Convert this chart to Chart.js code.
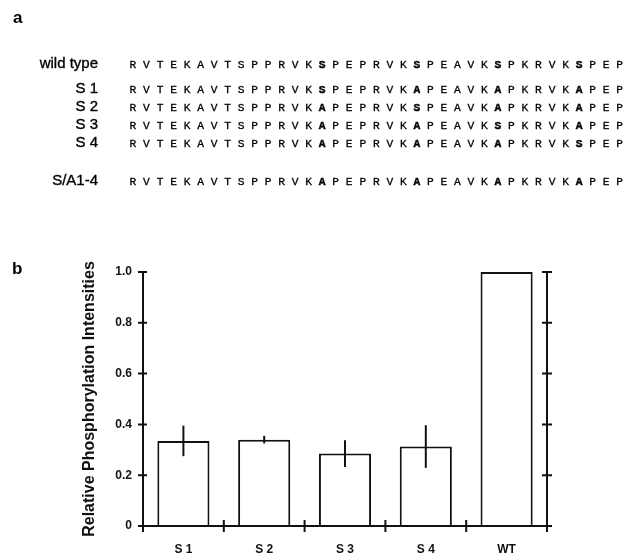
<!DOCTYPE html>
<html>
<head>
<meta charset="utf-8">
<script src="https://cdn.jsdelivr.net/npm/chart.js@4.4.1/dist/chart.umd.min.js"></script>
<style>
  html, body { margin: 0; padding: 0; background: #fff; }
  #wrap { position: relative; width: 623px; height: 554px; overflow: hidden; }
  #c { position: absolute; left: 0; top: 0; }
  .panel { position: absolute; font-family: "Liberation Sans", Arial, sans-serif; color: #000; font-size: 17px; line-height: 20px; font-weight: bold; }
  .row { position: absolute; left: 0; white-space: nowrap; line-height: 18px; color: #000; }
  .lab { display: inline-block; width: 98px; text-align: right; font-family: "Liberation Sans", Arial, sans-serif; font-size: 15px; -webkit-text-stroke: 0.35px #000; }
  .seq { display: inline-block; margin-left: 31.6px; font-family: "Liberation Mono", "Courier New", monospace; font-size: 11.25px; color: #000; -webkit-text-stroke: 0.3px #000; }
  .seq b { font-weight: bold; color: #000; -webkit-text-stroke: 0.4px #000; }
</style>
</head>
<body>
<div id="wrap">
  <canvas id="c" width="623" height="554"></canvas>
  <div class="panel" style="left:13px; top:8px;">a</div>
  <div class="panel" style="left:12px; top:259px;">b</div>
  <div id="seqs"></div>
</div>
<script>
// ---- Panel a: sequence rows ----
const rowLabels = ['wild type', 'S 1', 'S 2', 'S 3', 'S 4', 'S/A1-4'];
const rowSequences = [
  'RVTEKAVTSPPRVK[S]PEPRVK[S]PEAVK[S]PKRVK[S]PEP',
  'RVTEKAVTSPPRVK[S]PEPRVK[A]PEAVK[A]PKRVK[A]PEP',
  'RVTEKAVTSPPRVK[A]PEPRVK[S]PEAVK[A]PKRVK[A]PEP',
  'RVTEKAVTSPPRVK[A]PEPRVK[A]PEAVK[S]PKRVK[A]PEP',
  'RVTEKAVTSPPRVK[A]PEPRVK[A]PEAVK[A]PKRVK[S]PEP',
  'RVTEKAVTSPPRVK[A]PEPRVK[A]PEAVK[A]PKRVK[A]PEP'
];
const rowTops = [54, 79, 97, 115, 133, 171];

// ---- Panel b: bar chart data ----
const categories = ['S 1', 'S 2', 'S 3', 'S 4', 'WT'];
const values = [0.335, 0.34, 0.285, 0.313, 1.0];
const errors = [0.06, 0.015, 0.053, 0.084, 0];
const yTickValues = [0, 0.2, 0.4, 0.6, 0.8, 1.0];
const yTitle = 'Relative Phosphorylation Intensities';

// build sequence rows as real text
const seqBox = document.getElementById('seqs');
rowLabels.forEach((lab, i) => {
  const row = document.createElement('div');
  row.className = 'row';
  row.style.top = rowTops[i] + 'px';
  const l = document.createElement('span');
  l.className = 'lab';
  l.textContent = lab;
  const s = document.createElement('span');
  s.className = 'seq';
  const tokens = rowSequences[i].match(/\[.\]|./g);
  tokens.forEach((t, k) => {
    const sep = k < tokens.length - 1 ? ' ' : '';
    if (t.length === 3) {
      const b = document.createElement('b');
      b.textContent = t[1];
      s.appendChild(b);
      s.appendChild(document.createTextNode(sep));
    } else {
      s.appendChild(document.createTextNode(t + sep));
    }
  });
  row.appendChild(l);
  row.appendChild(s);
  seqBox.appendChild(row);
});

const ink = '#111';

const axisDecor = {
  id: 'axisDecor',
  afterDatasetsDraw(chart) {
    const ctx = chart.ctx;
    const meta = chart.getDatasetMeta(0);
    const y = chart.scales.y;
    ctx.save();
    ctx.strokeStyle = ink;
    ctx.lineWidth = 2;
    meta.data.forEach((bar, i) => {
      if (!errors[i]) return;
      const x = bar.x;
      ctx.beginPath();
      ctx.moveTo(x, y.getPixelForValue(values[i] + errors[i]));
      ctx.lineTo(x, y.getPixelForValue(values[i] - errors[i]));
      ctx.stroke();
    });
    ctx.restore();
  },
  afterDraw(chart) {
    const ctx = chart.ctx;
    const {left, right, bottom} = chart.chartArea;
    const x = chart.scales.x;
    const y = chart.scales.y;
    ctx.save();
    ctx.strokeStyle = ink;
    ctx.lineWidth = 2;
    ctx.beginPath();
    yTickValues.forEach(v => {
      const py = y.getPixelForValue(v);
      ctx.moveTo(left - 5, py); ctx.lineTo(left + 4, py);
      ctx.moveTo(right - 5, py); ctx.lineTo(right + 5, py);
    });
    for (let i = 0; i < categories.length - 1; i++) {
      const px = (x.getPixelForValue(i) + x.getPixelForValue(i + 1)) / 2;
      ctx.moveTo(px, bottom - 6); ctx.lineTo(px, bottom + 6);
    }
    ctx.moveTo(left - 5, bottom); ctx.lineTo(right + 5, bottom);
    ctx.moveTo(left, bottom); ctx.lineTo(left, bottom + 6);
    ctx.moveTo(right, bottom); ctx.lineTo(right, bottom + 6);
    ctx.stroke();
    ctx.restore();
  }
};

new Chart(document.getElementById('c'), {
  type: 'bar',
  data: {
    labels: categories,
    datasets: [{
      data: values,
      backgroundColor: '#fff',
      borderColor: ink,
      borderWidth: 2,
      barPercentage: 0.645,
      categoryPercentage: 1
    }]
  },
  options: {
    responsive: false,
    animation: false,
    events: [],
    layout: { padding: { left: 0, right: 76, top: 272, bottom: 0 } },
    plugins: { legend: { display: false }, tooltip: { enabled: false } },
    scales: {
      x: {
        type: 'category',
        offset: true,
        grid: { display: false, drawTicks: false },
        border: { display: true, width: 2, color: ink },
        ticks: { color: ink, padding: 16, font: { family: 'Liberation Sans', size: 12, weight: 'bold' } },
        afterFit: s => { s.height = 28; }
      },
      y: {
        min: 0, max: 1,
        afterBuildTicks: s => { s.ticks = yTickValues.map(v => ({ value: v })); },
        grid: { display: false, drawTicks: false },
        border: { display: true, width: 2, color: ink },
        ticks: {
          color: ink, padding: 11,
          font: { family: 'Liberation Sans', size: 12, weight: 'bold' },
          callback: v => v === 0 ? '0' : v.toFixed(1)
        },
        title: {
          display: true, text: yTitle, color: ink,
          font: { family: 'Liberation Sans', size: 16, weight: 'bold' },
          padding: { top: 80, bottom: 0 }
        },
        afterFit: s => { s.width = 143; }
      },
      y2: {
        position: 'right',
        min: 0, max: 1,
        grid: { display: false, drawTicks: false },
        border: { display: true, width: 2, color: ink },
        ticks: { display: false },
        afterFit: s => { s.width = 0; }
      }
    }
  },
  plugins: [axisDecor]
});
</script>
</body>
</html>
